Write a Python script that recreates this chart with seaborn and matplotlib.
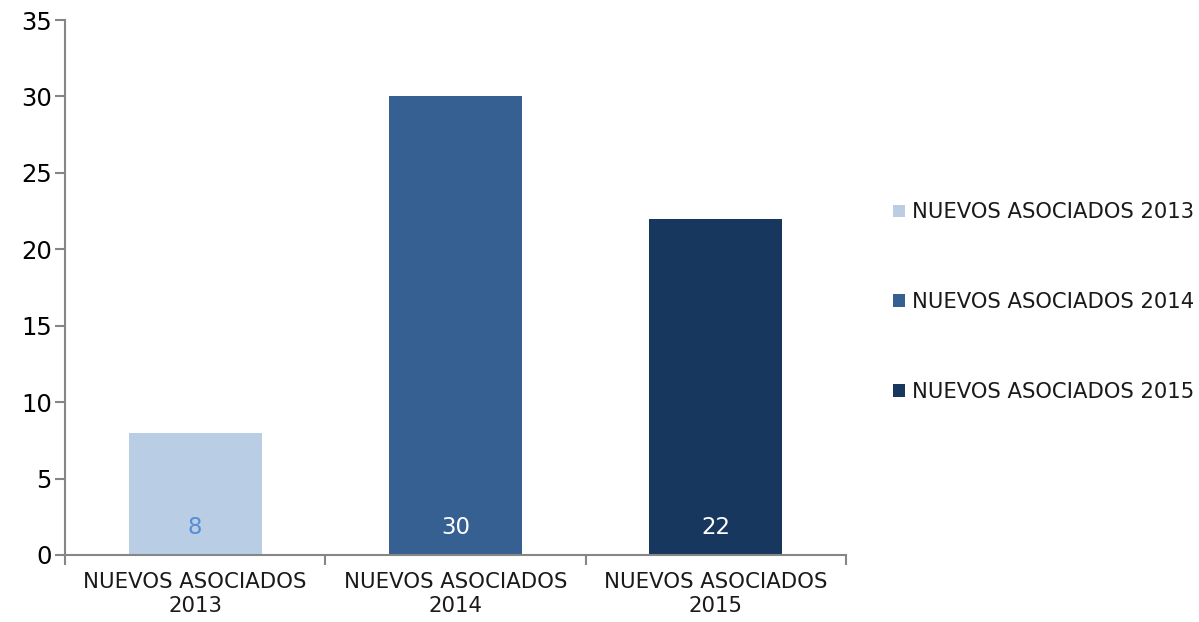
import matplotlib
matplotlib.use("Agg")
import matplotlib.pyplot as plt
import seaborn as sns
import pandas as pd
from matplotlib.patches import Patch

categories = ["NUEVOS ASOCIADOS 2013", "NUEVOS ASOCIADOS 2014", "NUEVOS ASOCIADOS 2015"]
tick_labels = ["NUEVOS ASOCIADOS\n2013", "NUEVOS ASOCIADOS\n2014", "NUEVOS ASOCIADOS\n2015"]
values = [8, 30, 22]
colors = ["#B9CDE5", "#376092", "#17375E"]
label_colors = ["#558ED5", "#FFFFFF", "#FFFFFF"]

sns.set_theme(style="white")
plt.rcParams['font.family'] = ['DejaVu Sans']

df = pd.DataFrame({"cat": categories, "val": values})

fig = plt.figure(figsize=(11.99, 6.22), dpi=100)
ax = fig.add_axes([65/1199, 67/622, 781/1199, 535/622])

sns.barplot(data=df, x="cat", y="val", hue="cat", palette=colors, dodge=False,
            width=0.51, saturation=1, ax=ax, legend=False, linewidth=0, edgecolor="none")

ax.set_xlim(-0.5, 2.5)
ax.set_ylim(0, 35)
ax.set_yticks(range(0, 36, 5))
ax.set_xlabel("")
ax.set_ylabel("")

spine_color = "#868686"
for s in ["top", "right"]:
    ax.spines[s].set_visible(False)
for s in ["left", "bottom"]:
    ax.spines[s].set_color(spine_color)
    ax.spines[s].set_linewidth(1.5)

ax.tick_params(axis="y", which="major", left=True, length=7, width=1.5, color=spine_color,
               labelsize=17.5, pad=2.5, labelcolor="#000000")
ax.set_xticks([-0.5, 0.5, 1.5, 2.5])
ax.set_xticklabels([])
ax.tick_params(axis="x", which="major", bottom=True, length=7, width=1.5, color=spine_color)
ax.set_xticks([0, 1, 2], minor=True)
ax.set_xticklabels(tick_labels, minor=True)
ax.tick_params(axis="x", which="minor", bottom=False, length=0, labelsize=15.3, pad=12,
               labelcolor="#1a1a1a")
for t in ax.get_xticklabels(minor=True):
    t.set_linespacing(1.3)

for i, (v, c) in enumerate(zip(values, label_colors)):
    ax.text(i, 1.8, str(v), ha="center", va="center", fontsize=16.5, color=c)

handles = [Patch(facecolor=c, edgecolor="none") for c in colors]
leg = fig.legend(handles, categories, loc="center left", bbox_to_anchor=(893/1199, 1 - 302/622),
                 frameon=False, fontsize=15.2, handlelength=0.55, handleheight=0.55,
                 handletextpad=0.35, labelspacing=3.3, borderaxespad=0, borderpad=0)
for t in leg.get_texts():
    t.set_color("#1a1a1a")

fig.savefig("out.png", dpi=100)
